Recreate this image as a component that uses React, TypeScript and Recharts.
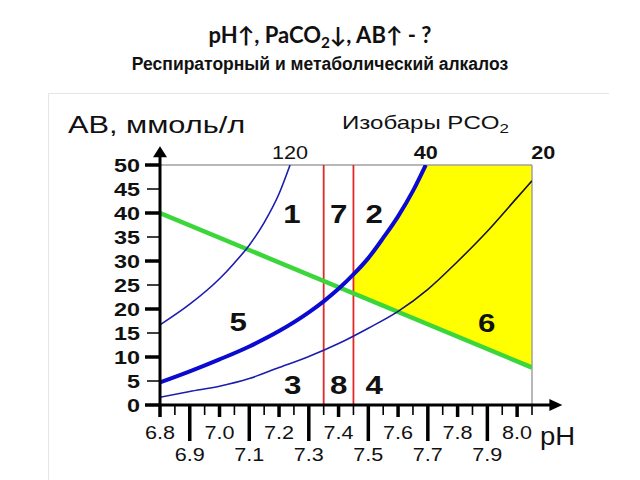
import { ComposedChart, Line, Area, XAxis, YAxis, ReferenceLine, ReferenceDot } from 'recharts';

// isobar 120 mm Hg
const PH_120 = [6.8, 6.9, 7.0, 7.05, 7.1, 7.15, 7.2, 7.237];
const AB_120 = [16.7, 21.0, 26.3, 29.6, 33.3, 38.0, 44.0, 50];

// isobar 40 mm Hg (norm)
const PH_40 = [6.8, 6.9, 7.0, 7.1, 7.2, 7.3, 7.35, 7.4, 7.45, 7.5, 7.55, 7.6, 7.65, 7.693];
const AB_40 = [4.7, 7.0, 9.5, 12.2, 15.4, 19.3, 21.6, 24.2, 27.2, 30.6, 34.8, 39.3, 44.6, 50];

// isobar 20 mm Hg
const PH_20 = [6.8, 6.9, 7.0, 7.1, 7.2, 7.3, 7.4, 7.5, 7.6, 7.7, 7.8, 7.9, 8.0, 8.05];
const AB_20 = [1.6, 2.8, 3.9, 5.5, 7.8, 10.1, 12.8, 16.0, 19.5, 24.1, 29.9, 36.2, 43.2, 46.7];

// buffer line
const PH_BUF = [6.8, 8.05];
const AB_BUF = [40, 7.8];

// zone 6 (yellow)
const PH_ALK = [7.45, 7.5, 7.55, 7.6, 7.65, 7.693, 7.8, 7.9, 8.0, 8.05];
const ALK_LO = [23.2, 21.9, 20.6, 19.3, 18.0, 16.9, 14.2, 11.6, 9.0, 7.8];
const ALK_HI = [27.2, 30.6, 34.8, 39.3, 44.6, 50, 50, 50, 50, 50];

const PH_TICKS = [6.8, 6.85, 6.9, 6.95, 7.0, 7.05, 7.1, 7.15, 7.2, 7.25, 7.3, 7.35, 7.4, 7.45, 7.5, 7.55, 7.6, 7.65, 7.7, 7.75, 7.8, 7.85, 7.9, 7.95, 8.0, 8.05];
const AB_TICKS = [0, 5, 10, 15, 20, 25, 30, 35, 40, 45, 50];

const ZONES = ['1', '7', '2', '5', '6', '3', '8', '4'];
const ZONE_PH = [7.243, 7.4, 7.52, 7.063, 7.898, 7.246, 7.4, 7.52];
const ZONE_AB = [39.8, 39.8, 39.8, 17.3, 17.0, 4.1, 4.1, 4.1];

const ISO_LABELS = ['120', '40', '20'];
const ISO_PH = [7.237, 7.693, 8.088];

const NORM_PH = [7.35, 7.45];

const toRows = (xs: number[], ys: number[]) => xs.map((ph, i) => ({ ph, ab: ys[i] }));
const alkRows = PH_ALK.map((ph, i) => ({ ph, range: [ALK_LO[i], ALK_HI[i]] }));

const FONT = '"Liberation Sans", Arial, sans-serif';
// the original picture is stretched horizontally
const SX = 1.25;

function PhTick({ x, y, payload }: any) {
  const k = Math.round(payload.value * 20);
  const tenth = k % 2 === 0;
  const odd = tenth && (k / 2) % 2 === 1;
  const len = !tenth ? 10 : odd ? 36 : 12;
  return (
    <g>
      <line x1={x} x2={x} y1={y} y2={y + len} stroke="#000" strokeWidth={tenth ? 3.5 : 1.6} />
      {tenth && (
        <text transform={`translate(${x},${y + (odd ? 56 : 34)}) scale(1.2,1)`} textAnchor="middle" fontSize={18} fontFamily={FONT} fill="#111">
          {payload.value.toFixed(1)}
        </text>
      )}
    </g>
  );
}

function AbTick({ x, y, payload }: any) {
  const major = payload.value % 10 === 0;
  return (
    <g>
      <line x1={x - (major ? 15 : 13)} x2={x} y1={y} y2={y} stroke="#000" strokeWidth={major ? 3.5 : 1.5} />
      <text transform={`translate(${x - 20},${y + 6.5}) scale(1.3,1)`} textAnchor="end" fontSize={18} fontWeight={700} fontFamily={FONT} fill="#111">
        {payload.value}
      </text>
    </g>
  );
}

const xArrow = (p: any) => (
  <g>
    <line x1={p.x1} y1={p.y1} x2={p.x2 - 10} y2={p.y2} stroke="#000" strokeWidth={3} />
    <polygon points={`${p.x2},${p.y2} ${p.x2 - 13},${p.y2 - 6} ${p.x2 - 13},${p.y2 + 6}`} fill="#000" />
  </g>
);

const yArrow = (p: any) => (
  <g>
    <line x1={p.x1} y1={p.y1} x2={p.x2} y2={p.y2 + 8} stroke="#000" strokeWidth={3} />
    <polygon points={`${p.x2},${p.y2} ${p.x2 - 7},${p.y2 + 11} ${p.x2 + 7},${p.y2 + 11}`} fill="#000" />
  </g>
);

const zoneShape = (t: string) => (p: any) => (
  <text transform={`translate(${p.cx},${p.cy + 9}) scale(${SX},1)`} textAnchor="middle" fontSize={25} fontWeight={700} fontFamily={FONT} fill="#111">
    {t}
  </text>
);

const isoShape = (t: string, bold: boolean) => (p: any) => (
  <text transform={`translate(${p.cx},${p.cy - 6}) scale(1.2,1)`} textAnchor="middle" fontSize={18} fontWeight={bold ? 700 : 400} fontFamily={FONT} fill="#111">
    {t}
  </text>
);

const abs = (s: any) => ({ position: 'absolute' as const, whiteSpace: 'nowrap' as const, ...s });
const sub = { fontSize: '0.7em', verticalAlign: '-0.3em', lineHeight: 0 };

export default function App() {
  return (
    <div style={{ position: 'absolute', left: 0, top: 0, width: 640, height: 480, background: '#fff', fontFamily: FONT }}>
      <div style={abs({ left: 0, top: 22, width: 640, textAlign: 'center', fontFamily: 'Lato, sans-serif', fontWeight: 700, fontSize: 22, lineHeight: '26px', color: '#111' })}>
        pH↑, PaCO<sub style={sub}>2</sub>↓, AB↑ - ?
      </div>
      <div style={abs({ left: 0, top: 54, width: 640, textAlign: 'center', fontWeight: 700, fontSize: 17.5, lineHeight: '20px', color: '#111' })}>
        Респираторный и метаболический алкалоз
      </div>
      <div style={abs({ left: 48, top: 93, width: 560, height: 390, borderTop: '1px solid #e6e6e6', borderLeft: '1px solid #e6e6e6' })} />
      <div style={abs({ left: 68, top: 111, fontSize: 24, lineHeight: '28px', color: '#111', transform: 'scaleX(1.28)', transformOrigin: 'left' })}>АВ, ммоль/л</div>
      <div style={abs({ left: 342, top: 112, fontSize: 18.5, lineHeight: '21px', color: '#111', transform: 'scaleX(1.3)', transformOrigin: 'left' })}>
        Изобары PCO<sub style={sub}>2</sub>
      </div>
      <div style={abs({ left: 540, top: 421, fontSize: 25, lineHeight: '30px', color: '#111', transform: 'scaleX(1.1)', transformOrigin: 'left' })}>pH</div>
      <div style={abs({ left: 0, top: 0 })}>
        <ComposedChart width={640} height={480} margin={{ top: 165, right: 108, bottom: 45, left: 100 }}>
          <defs>
            <linearGradient id="iso20" x1="0" y1="0" x2="1" y2="0">
              <stop offset="0" stopColor="#1c1cb0" />
              <stop offset="0.6" stopColor="#1c1cb0" />
              <stop offset="0.68" stopColor="#141450" />
              <stop offset="1" stopColor="#111" />
            </linearGradient>
          </defs>
          <XAxis type="number" dataKey="ph" domain={[6.8, 8.05]} ticks={PH_TICKS} interval={0} allowDataOverflow
            axisLine={false} tickLine={false} tickSize={0} tickMargin={0} height={30} tick={<PhTick />} />
          <YAxis type="number" dataKey="ab" domain={[0, 50]} ticks={AB_TICKS} interval={0} allowDataOverflow
            axisLine={false} tickLine={false} tickSize={0} tickMargin={0} width={60} tick={<AbTick />} />
          <Area data={alkRows} dataKey="range" type="monotone" fill="#ffff00" fillOpacity={1} stroke="none" isAnimationActive={false} />
          <ReferenceLine y={50} stroke="#a0a0a0" strokeWidth={1.5} />
          <ReferenceLine x={8.05} stroke="#a0a0a0" strokeWidth={1.5} />
          {NORM_PH.map((ph) => (
            <ReferenceLine key={ph} x={ph} stroke="#e02828" strokeWidth={1.8} />
          ))}
          <Line data={toRows(PH_BUF, AB_BUF)} dataKey="ab" type="linear" stroke="#3ad63a" strokeWidth={4.5} dot={false} isAnimationActive={false} />
          <Line data={toRows(PH_120, AB_120)} dataKey="ab" type="monotone" stroke="#1c1cb0" strokeWidth={1.6} dot={false} isAnimationActive={false} />
          <Line data={toRows(PH_40, AB_40)} dataKey="ab" type="monotone" stroke="#0a0ad0" strokeWidth={4} dot={false} isAnimationActive={false} />
          <Line data={toRows(PH_20, AB_20)} dataKey="ab" type="monotone" stroke="url(#iso20)" strokeWidth={1.6} dot={false} isAnimationActive={false} />
          <ReferenceLine segment={[{ x: 6.8, y: 0 }, { x: 8.152, y: 0 }]} ifOverflow="visible" shape={xArrow} />
          <ReferenceLine segment={[{ x: 6.8, y: 0 }, { x: 6.8, y: 53.9 }]} ifOverflow="visible" shape={yArrow} />
          {ZONES.map((z, i) => (
            <ReferenceDot key={'z' + i} x={ZONE_PH[i]} y={ZONE_AB[i]} r={1} ifOverflow="visible" shape={zoneShape(z)} />
          ))}
          {ISO_LABELS.map((t, i) => (
            <ReferenceDot key={'i' + i} x={ISO_PH[i]} y={50} r={1} ifOverflow="visible" shape={isoShape(t, i > 0)} />
          ))}
        </ComposedChart>
      </div>
    </div>
  );
}
